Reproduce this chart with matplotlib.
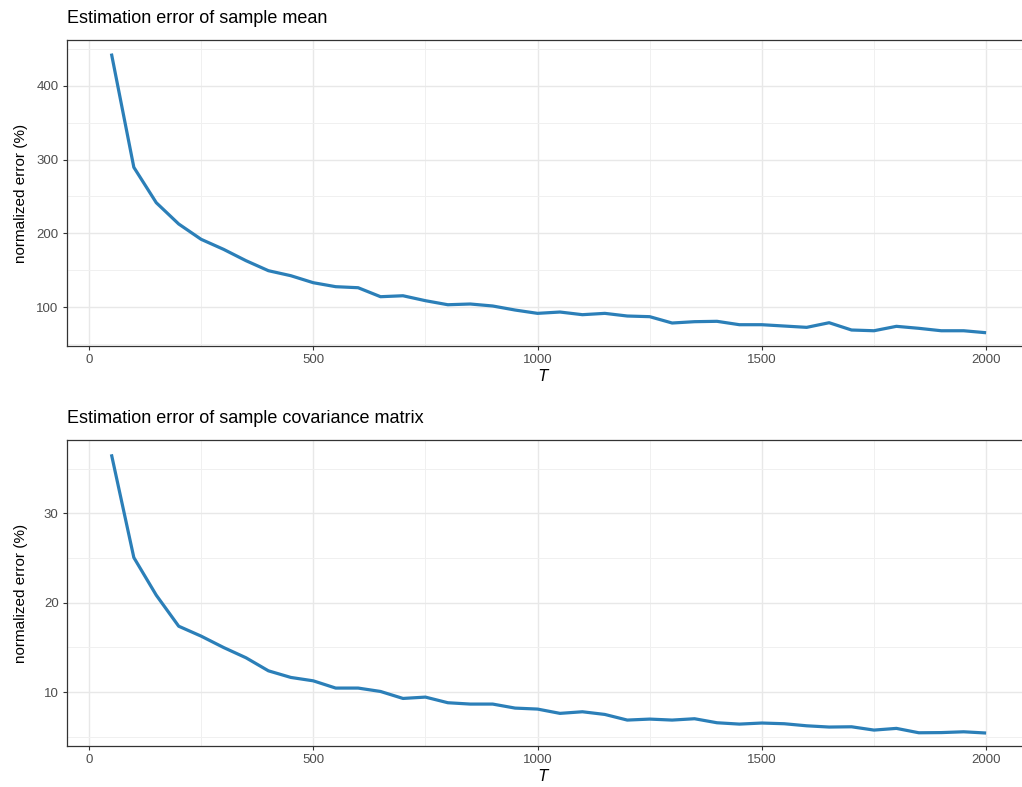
import matplotlib.pyplot as plt
from matplotlib.ticker import MultipleLocator

# sample sizes and normalized errors
T = list(range(50, 2001, 50))
err_mean = [444, 289.6, 241.6, 212.7, 191.9, 178.3, 162.9, 149.3, 142.5, 133.0,
            127.6, 126.2, 114.0, 115.3, 108.6, 103.1, 104.1, 101.4, 95.9, 91.4,
            93.2, 89.6, 91.4, 87.8, 86.9, 78.3, 80.1, 80.6, 76.0, 76.0,
            74.2, 72.4, 78.7, 68.8, 67.8, 73.8, 71.1, 67.8, 67.8, 65.1]
err_cov = [36.6, 25.05, 20.84, 17.37, 16.26, 14.99, 13.84, 12.38, 11.64, 11.26,
           10.45, 10.45, 10.07, 9.29, 9.44, 8.81, 8.66, 8.66, 8.21, 8.10,
           7.62, 7.80, 7.50, 6.87, 6.98, 6.87, 7.02, 6.57, 6.42, 6.54,
           6.46, 6.23, 6.09, 6.12, 5.75, 5.94, 5.45, 5.47, 5.56, 5.42]
titles = ['Estimation error of sample mean',
          'Estimation error of sample covariance matrix']

plt.rcParams['font.family'] = ['Liberation Sans', 'DejaVu Sans']

fig = plt.figure(figsize=(10.22, 7.87), dpi=100)
ax1 = fig.add_axes([67/1022, 1 - 346/787, 955/1022, 306/787])
ax2 = fig.add_axes([67/1022, 1 - 746/787, 955/1022, 306/787])

panels = [(ax1, err_mean, titles[0], (47.1, 462.4), 100, 50),
          (ax2, err_cov, titles[1], (3.97, 38.2), 10, 5)]

for ax, vals, title, ylim, major, minor in panels:
    ax.plot(T, vals, color='#2b7fb8', lw=2.3, solid_capstyle='butt', zorder=3)
    ax.set_xlim(-49, 2080)
    ax.set_ylim(*ylim)
    ax.xaxis.set_major_locator(MultipleLocator(500))
    ax.xaxis.set_minor_locator(MultipleLocator(250))
    ax.yaxis.set_major_locator(MultipleLocator(major))
    ax.yaxis.set_minor_locator(MultipleLocator(minor))
    ax.grid(which='major', color='#e8e8e8', lw=1.0)
    ax.grid(which='minor', color='#f0f0f0', lw=0.7)
    ax.set_axisbelow(True)
    ax.tick_params(which='major', length=3, width=0.8, color='#333333',
                   labelsize=9.5, labelcolor='#4d4d4d', pad=3)
    ax.tick_params(which='minor', length=0)
    for s in ['left', 'top', 'bottom']:
        ax.spines[s].set_color('#333333')
        ax.spines[s].set_linewidth(0.9)
    ax.spines['right'].set_visible(False)
    ax.set_title(title, loc='left', fontsize=13, pad=12)
    ax.set_xlabel('$T$', fontsize=11, labelpad=1)
    ax.set_ylabel('normalized error (%)', fontsize=11)
    ax.yaxis.set_label_coords(-0.0406, 0.5)

fig.savefig('out.png', dpi=100)
